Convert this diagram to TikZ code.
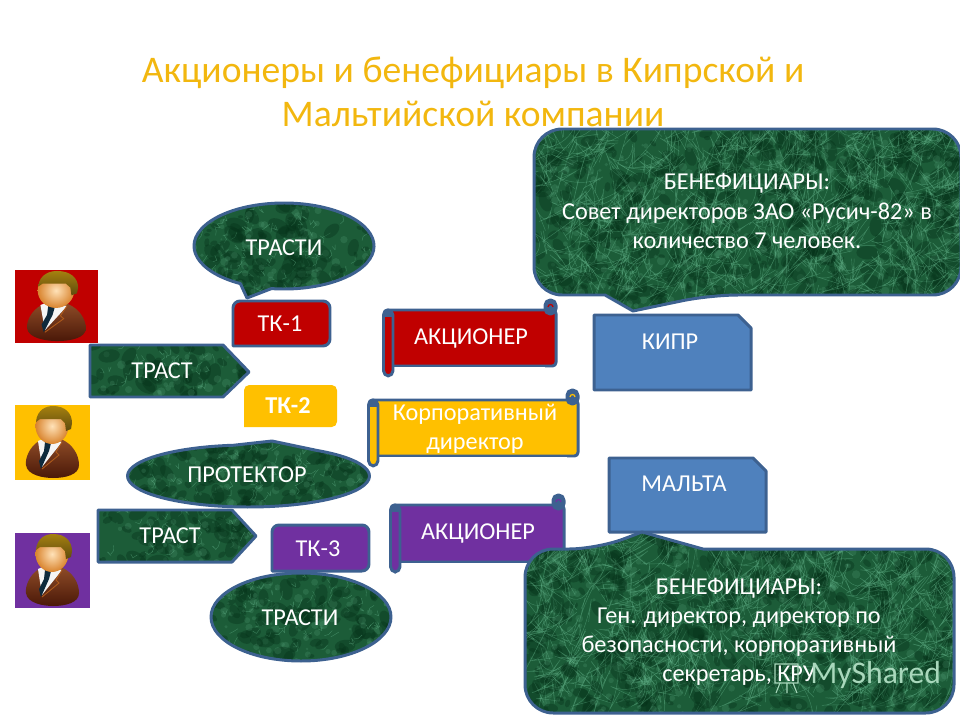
\documentclass[tikz,border=0pt]{standalone}
\usepackage{fontspec}
\setmainfont{Carlito}
\definecolor{edgeblue}{HTML}{3D6190}
\definecolor{boxblue}{HTML}{4F81BD}
\definecolor{tkred}{HTML}{C00000}
\definecolor{tkgold}{HTML}{FFC000}
\definecolor{tkviolet}{HTML}{7030A0}
\definecolor{titlegold}{HTML}{F2B70F}
\definecolor{marblebase}{HTML}{1C5C38}
\definecolor{marbledark}{HTML}{06331A}
\definecolor{marblelight}{HTML}{5FAE85}
\definecolor{jackettop}{HTML}{8C4A26}
\definecolor{jacketlow}{HTML}{4A1808}
\definecolor{hairtop}{HTML}{A5800F}
\definecolor{hairlow}{HTML}{5E4A0E}
\definecolor{skinlight}{HTML}{FFE2B8}
\definecolor{skindark}{HTML}{D9842E}
\definecolor{tiedark}{HTML}{0E2A3C}
\definecolor{markgreen}{HTML}{A9D8BC}
\newcommand{\marbletex}{%
    \pgfpointdiff{\pgfpointanchor{path picture bounding box}{south west}}{\pgfpointanchor{path picture bounding box}{north east}}%
    \pgfgetlastxy{\mw}{\mh}%
    \pgfmathsetmacro{\mcount}{int((\mw/10)*(\mh/10)/0.5)}%
    \begin{scope}[shift={(path picture bounding box.south west)},x=1pt,y=1pt]
        \foreach \i in {1,...,\mcount} {
            \pgfmathsetmacro{\mx}{rnd*\mw}
            \pgfmathsetmacro{\my}{rnd*\mh}
            \pgfmathsetmacro{\mr}{1.5+rnd*5}
            \pgfmathsetmacro{\ma}{rand*90}
            \pgfmathsetmacro{\mb}{rand*60+90}
            \fill[marbledark, opacity=0.4, rotate around={\ma:(\mx,\my)}] (\mx,\my) ellipse ({\mr} and {0.6*\mr});
            \fill[marblelight, opacity=0.2] (\mx+7,\my-5) circle (0.4*\mr);
            \draw[marblelight, line width=0.25pt, opacity=0.5] (\mx+5,\my+4) -- ++(\ma:2.5) -- ++(\mb:3);
        }
    \end{scope}}
\tikzset{
    marble/.style={draw=edgeblue, line width=1.7pt, line join=round, fill=marblebase, path picture={\marbletex}},
    tkbox/.style={draw=edgeblue, line width=1.7pt, line join=round},
    label/.style={text=white, font=\fontsize{13.8}{16.4}\selectfont, align=center, inner sep=0pt},
    pics/person/.style={code={
        \fill[#1] (0,0) rectangle (75,75);
        \shade[top color=jackettop, bottom color=jacketlow] (24,36) .. controls (14,42) and (10,54) .. (11,60) .. controls (12,70) and (28,73) .. (38,73) .. controls (50,73) and (64,70) .. (64,60) .. controls (64,50) and (58,40) .. (48,35) -- cycle;
        \fill[white!92!gray] (23,36) -- (30,33) -- (47,37) -- (27,62) -- cycle;
        \fill[tiedark] (30,37) -- (36,38) -- (34,46) -- (26,64) -- (24,56) -- (29,46) -- cycle;
        \draw[jackettop!70!orange, line width=0.5pt] (47,37) -- (41,47) -- (44,50) -- (27,64);
        \shade[shading=radial, inner color=skinlight, outer color=skindark] (37,21) ellipse (16.5 and 18);
        \shade[top color=hairtop, bottom color=hairlow] (21,17) .. controls (22,4) and (32,1) .. (38,1) .. controls (50,1) and (57,8) .. (57,18) -- (56,24) -- (51,26) -- (50,18) -- (46,14) -- (25,14) -- cycle;
    }},
}
\newcommand{\scrollbox}[5]{%
    \draw[tkbox, fill=#5, rounded corners=2pt] (#1-9,#2) rectangle (#3,#4);
    \draw[tkbox, fill=edgeblue, rounded corners=3pt] (#3-11,#2-10) rectangle (#3,#2+4);
    \draw[#5, line width=0.7pt] (#3-8,#2-3) arc[start angle=180, end angle=360, x radius=2.5, y radius=2.5];
    \fill[white] (#3-11,#4+1) rectangle (#1-9,#4+11);
    \draw[tkbox, fill=#5, rounded corners=3pt] (#1-9.5,#2) rectangle (#1,#4+10);
    \fill[edgeblue] (#1-9.5,#2) rectangle (#1,#2+7);
}
\begin{document}
\begin{tikzpicture}[x=0.02cm, y=-0.02cm]

    \useasboundingbox (0,0) rectangle (960,720);
    \pgfmathsetseed{82}

    % Title
    \node[text=titlegold, font=\fontsize{21.4}{25}\selectfont, align=center, inner sep=0pt] (title) at (473,92) {Акционеры и бенефициары в Кипрской и\\Мальтийской компании};

    % Persons
    \pic[xscale=83/75, yscale=73/75] at (15,270) {person=tkred};
    \pic at (15,405) {person=tkgold};
    \pic at (15,533) {person=tkviolet};

    % Trust boxes
    \draw[tkbox, fill=tkred, rounded corners=4pt] (233,346) -- (233,301) -- (330,301) -- (330,346) [sharp corners] -- cycle;
    \node[label] (tk1) at (280,324) {ТК-1};
    \fill[tkgold, rounded corners=3pt] (244,427) -- (244,385) -- (337,385) -- (337,427) [sharp corners] -- cycle;
    \node[label, font=\fontsize{13.8}{16.4}\selectfont\bfseries] (tk2) at (288,406) {ТК-2};
    \draw[tkbox, fill=tkviolet, rounded corners=4pt] (272,571) -- (272,525) -- (369,525) -- (369,571) [sharp corners] -- cycle;
    \node[label] (tk3) at (318,549) {ТК-3};

    % Trustees
    \draw[marble] (284,246) ++(119:90 and 43) arc[start angle=119, end angle=458, x radius=90, y radius=43] -- (247,298) -- cycle;
    \node[label] (trustee1) at (284,248) {ТРАСТИ};
    \draw[marble] (301,617) ellipse (90 and 44);
    \node[label] (trustee2) at (300,618) {ТРАСТИ};

    % Protector
    \draw[marble] (248.5,476) ++(-55.5:121 and 31) arc[start angle=-55.5, end angle=263, x radius=121, y radius=31] -- (272,441) -- cycle;
    \node[label] (protector) at (247,475) {ПРОТЕКТОР};

    % Trusts
    \draw[marble] (90,345) -- (223,345) -- (249,372) -- (223,397) -- (90,397) -- cycle;
    \node[label] (trust1) at (162,371) {ТРАСТ};
    \draw[marble] (98,510) -- (232,510) -- (256,536) -- (232,562) -- (98,562) -- cycle;
    \node[label] (trust2) at (170,536) {ТРАСТ};

    % Scrolls
    \scrollbox{393}{310}{556}{366}{tkred}
    \node[label] (holder1) at (471,339) {АКЦИОНЕР};
    \scrollbox{378}{400}{578}{456}{tkgold}
    \node[label] (director) at (475,428.5) {Корпоративный\\директор};
    \scrollbox{400}{505}{564}{562}{tkviolet}
    \node[label] (holder2) at (478,534) {АКЦИОНЕР};

    % Countries
    \draw[tkbox, fill=boxblue] (594,315) -- (738,315) -- (751,328) -- (751,390) -- (594,390) -- cycle;
    \node[label] (cyprus) at (670,342) {КИПР};
    \draw[tkbox, fill=boxblue] (609,458) -- (753,458) -- (766,471) -- (766,532) -- (609,532) -- cycle;
    \node[label] (malta) at (684,484) {МАЛЬТА};

    % Beneficiaries
    \draw[marble, rounded corners=16pt] (534,129) -- (961,129) -- (961,295) -- (710,295) [sharp corners] -- (633,311) -- (605,295) [rounded corners=16pt] -- (534,295) -- cycle;
    \node[label, font=\fontsize{13.8}{17}\selectfont] (owners1) at (747,211) {БЕНЕФИЦИАРЫ:\\Совет директоров ЗАО «Русич-82» в\\количество 7 человек.};
    \draw[marble, rounded corners=16pt] (525,549) -- (597,549) [sharp corners] -- (642,532) -- (703,549) [rounded corners=16pt] -- (954,549) -- (954,713) -- (525,713) -- cycle;
    \node[label] (owners2) at (739,632) {БЕНЕФИЦИАРЫ:\\Ген. директор, директор по\\безопасности, корпоративный\\секретарь, КРУ};

    % Watermark
    \node[text=markgreen, font=\fontsize{18}{20}\selectfont, inner sep=0pt, anchor=west] (mark) at (810,675) {MyShared};
    \draw[markgreen, line width=0.6pt] (775,664) rectangle (798,683) (780,683) -- (776,693) (793,683) -- (797,693) (787,683) -- (787,693);

\end{tikzpicture}
\end{document}
